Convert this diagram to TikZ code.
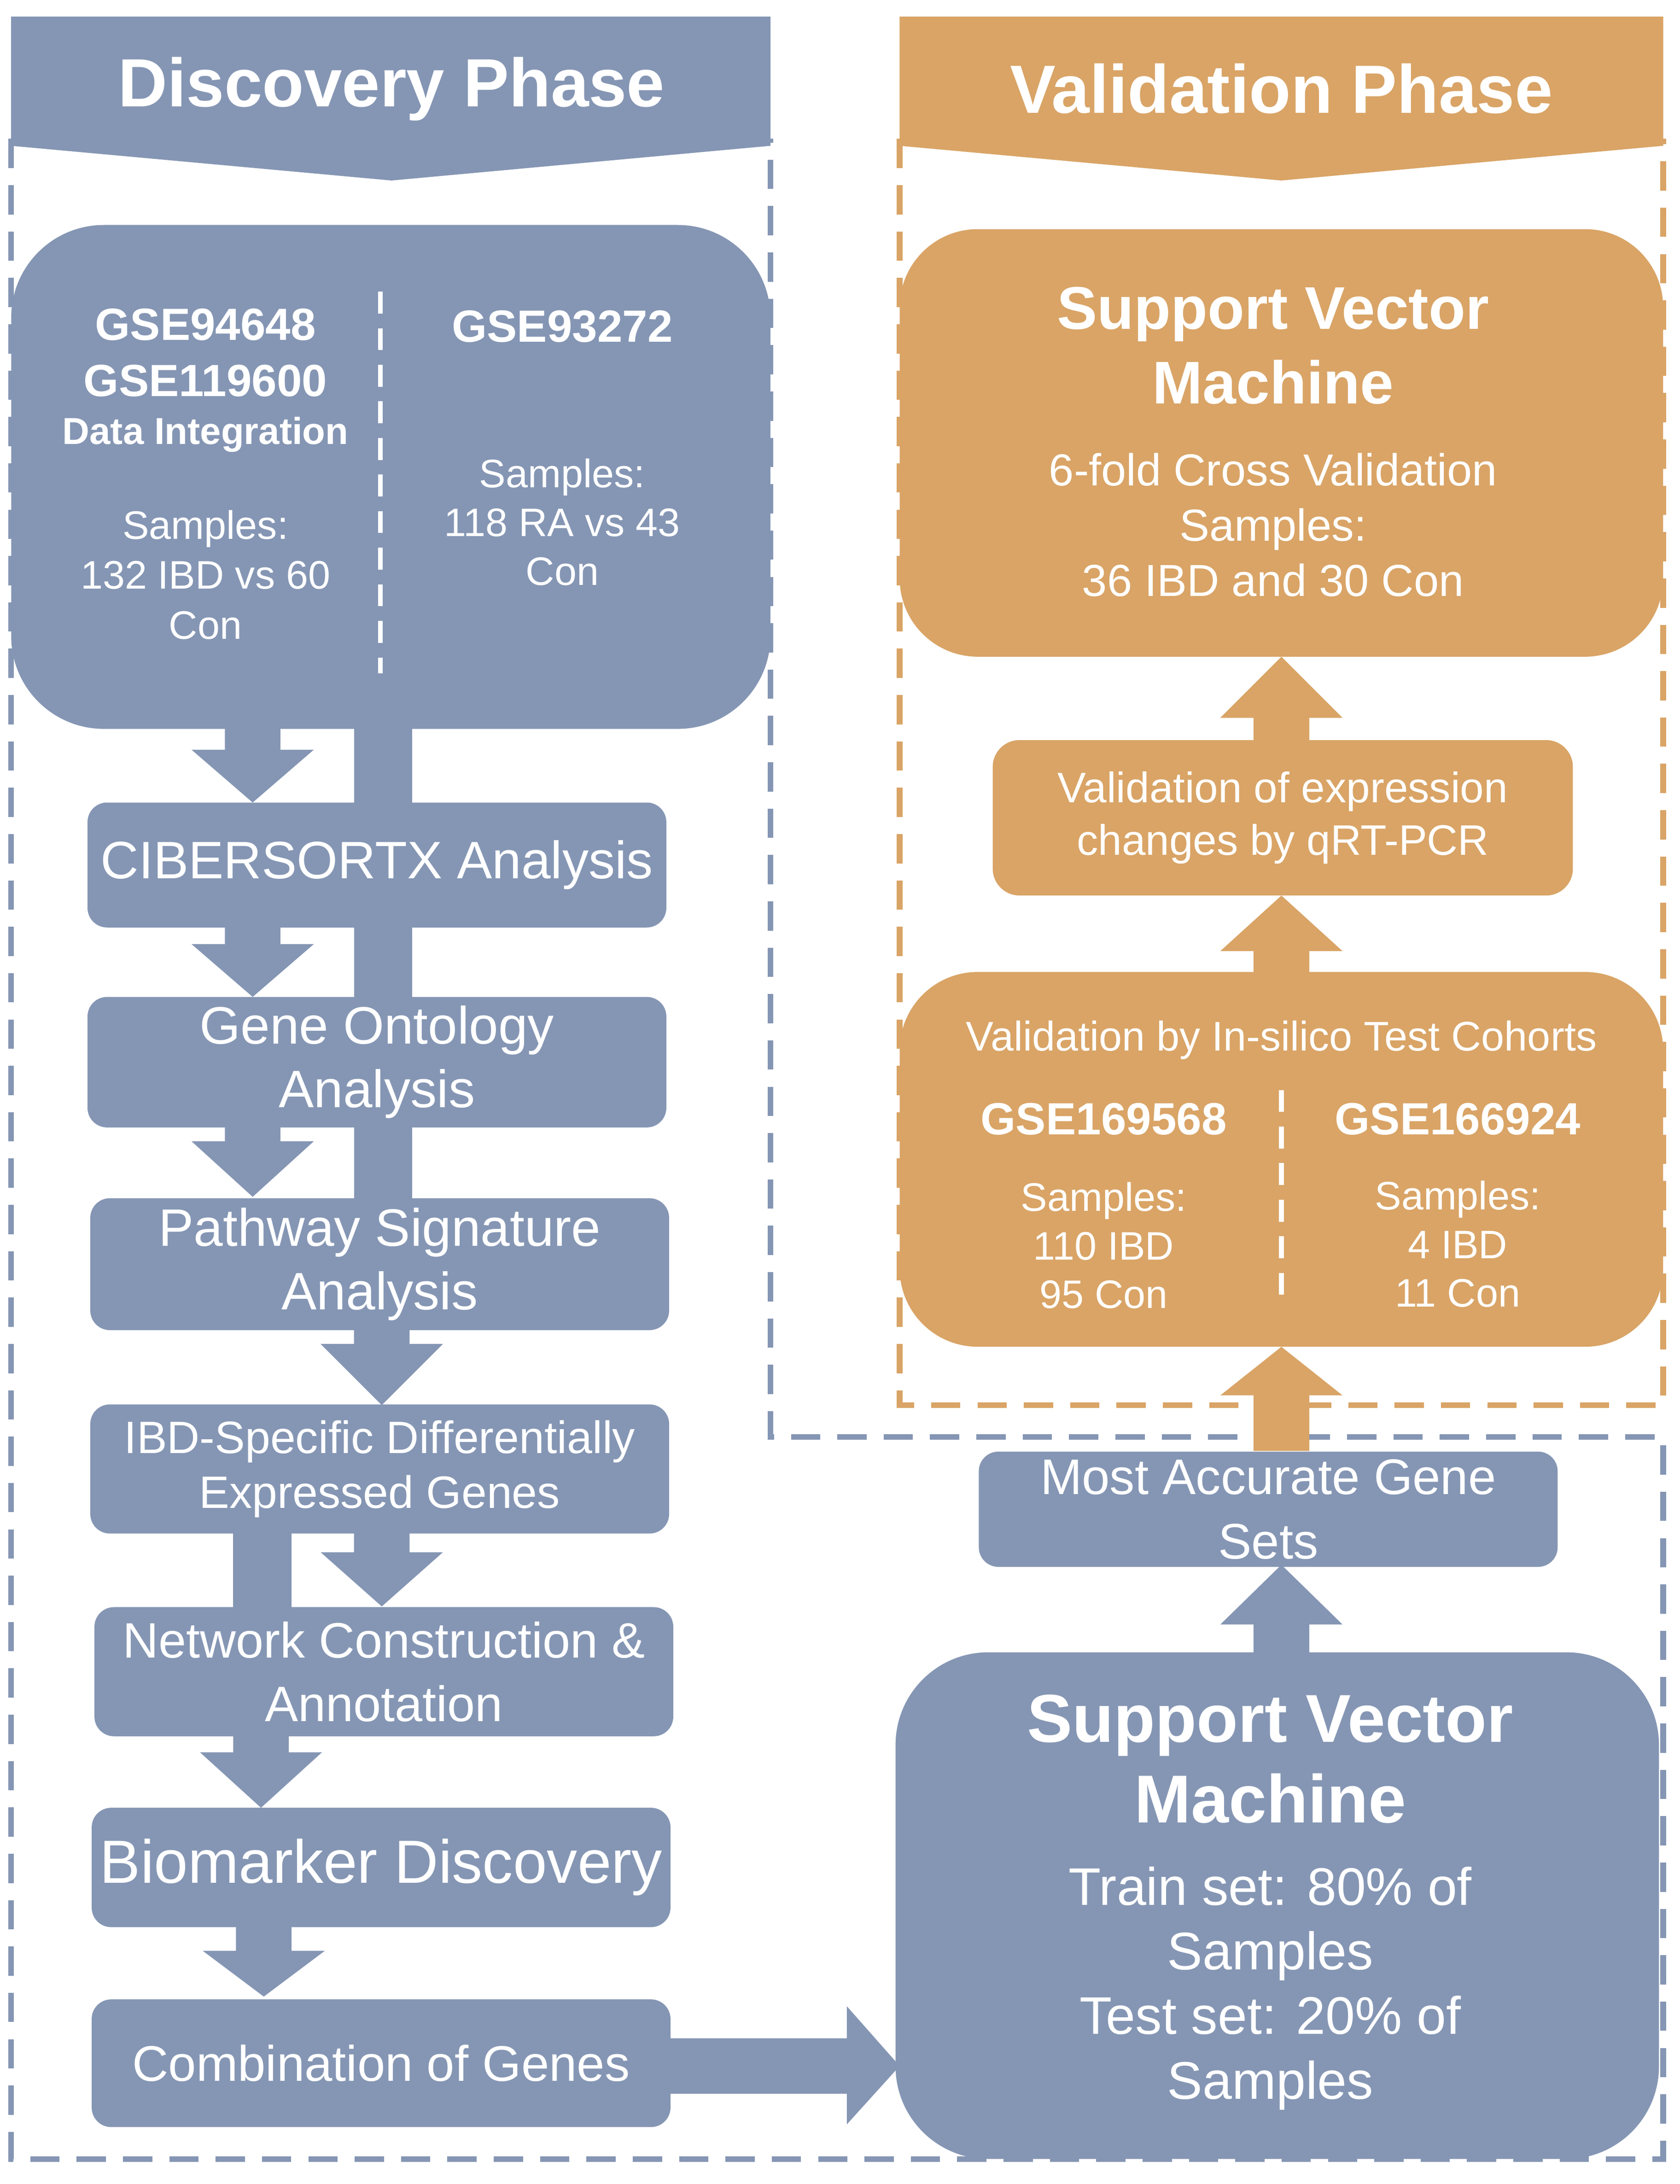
\documentclass[tikz,border=0pt]{standalone}
\usepackage{fontspec}
\setmainfont{Liberation Sans}
\definecolor{bl}{HTML}{8596B4}
\definecolor{og}{HTML}{D9A466}
\newcommand{\fs}[2]{\fontsize{#1}{#2}\selectfont}
\newcommand{\darr}[5]{\fill[#5] (#1-20,#2) -- (#1+20,#2) -- (#1+20,#3) -- (#1+44,#3) -- (#1,#4) -- (#1-44,#3) -- (#1-20,#3) -- cycle;}
\begin{document}
\begin{tikzpicture}[x=0.02cm,y=-0.02cm,
  dsh/.style={line width=2.3pt,dash pattern=on 12pt off 7pt},
  box/.style={fill=#1,rounded corners=8pt,inner sep=0pt,text=white,align=center},
  big/.style={fill=#1,rounded corners=38pt,inner sep=0pt},
  wt/.style={text=white,inner sep=0pt,align=center}]
\useasboundingbox (0,0) rectangle (1210,1573);
% dashed frames
\draw[dsh,og] (648,100) -- (648,1012) -- (1198,1012) -- (1198,100);
\draw[dsh,bl] (8,100) -- (8,1555) -- (1198,1555) -- (1198,1035) -- (555,1035) -- (555,100);
% banners
\fill[bl] (8,12) -- (555,12) -- (555,105) -- (282,130) -- (8,105) -- cycle;
\fill[og] (648,12) -- (1198,12) -- (1198,105) -- (923,130) -- (648,105) -- cycle;
\node[wt,font=\fs{28}{32}\bfseries] (t1) at (282,64) {Discovery Phase};
\node[wt,font=\fs{28}{32}\bfseries] (t2) at (923,64) {Validation Phase};
% connectors (block arrows / stems)
\darr{182}{520}{540}{578}{bl}
\fill[bl] (255,520) rectangle (297,580);
\darr{182}{665}{680}{718}{bl}
\fill[bl] (255,665) rectangle (297,720);
\darr{182}{810}{822}{862}{bl}
\fill[bl] (255,810) rectangle (297,865);
\darr{275}{955}{968}{1012}{bl}
\fill[bl] (168,1100) rectangle (210,1160);
\darr{275}{1100}{1118}{1157}{bl}
\darr{188}{1248}{1262}{1302}{bl}
\darr{190}{1385}{1405}{1438}{bl}
\fill[bl] (480,1468) -- (610,1468) -- (610,1445) -- (648,1488) -- (610,1530) -- (610,1508) -- (480,1508) -- cycle;
\darr{923}{1192}{1170}{1127}{bl}
\darr{923}{1045}{1005}{970}{og}
\darr{923}{703}{685}{645}{og}
\darr{923}{536}{517}{473}{og}
% discovery big box
\node[big=bl,minimum width=547\pgflinewidth,minimum width=10.94cm,minimum height=7.26cm] (d0) at (281.5,343.5) {};
\draw[white,line width=2pt,dash pattern=on 9pt off 6pt] (274,210) -- (274,485);
\node[wt,font=\fs{18.5}{23}\bfseries] (g1) at (148,254) {GSE94648\\GSE119600};
\node[wt,font=\fs{15.4}{18}\bfseries] (g1b) at (148,313) {Data Integration};
\node[wt,font=\fs{16.3}{20.5}] (g1c) at (148,414) {Samples:\\132 IBD vs 60\\Con};
\node[wt,font=\fs{18.5}{23}\bfseries] (g2) at (405,235) {GSE93272};
\node[wt,font=\fs{16.3}{20}] (g2c) at (405,376) {Samples:\\118 RA vs 43\\Con};
% flow boxes
\node[box=bl,minimum width=8.34cm,minimum height=1.8cm,font=\fs{21.6}{26}] (c1) at (271.5,623) {CIBERSORTX Analysis};
\node[box=bl,minimum width=8.34cm,minimum height=1.88cm,font=\fs{21.6}{26}] (c2) at (271.5,765) {Gene Ontology\\Analysis};
\node[box=bl,minimum width=8.34cm,minimum height=1.9cm,font=\fs{21.6}{26}] (c3) at (273.5,910.5) {Pathway Signature\\Analysis};
\node[box=bl,minimum width=8.34cm,minimum height=1.86cm,font=\fs{18.6}{22.5}] (c4) at (273.5,1058) {IBD-Specific Differentially\\Expressed Genes};
\node[box=bl,minimum width=8.34cm,minimum height=1.86cm,font=\fs{20.4}{26}] (c5) at (276.5,1204) {Network Construction \&\\Annotation};
\node[box=bl,minimum width=8.34cm,minimum height=1.72cm,font=\fs{25}{30}] (c6) at (274.5,1345) {Biomarker Discovery};
\node[box=bl,minimum width=8.34cm,minimum height=1.84cm,font=\fs{20.5}{25}] (c7) at (274.5,1486) {Combination of Genes};
% blue SVM
\node[big=bl,minimum width=11cm,minimum height=7.3cm] (s1) at (920,1372.5) {};
\node[wt,font=\fs{27.8}{33}\bfseries] (s1a) at (915,1267) {Support Vector\\Machine};
\node[wt,font=\fs{21.7}{26.5}] (s1b) at (915,1432) {Train set: 80\% of\\Samples\\Test set: 20\% of\\Samples};
\node[box=bl,minimum width=8.34cm,minimum height=1.66cm,font=\fs{20.5}{26.5}] (m1) at (913.5,1087) {Most Accurate Gene\\Sets};
% orange in-silico
\node[big=og,minimum width=11cm,minimum height=5.4cm,rounded corners=32pt] (v1) at (923,835) {};
\node[wt,font=\fs{17}{20}] (v1a) at (923,749) {Validation by In-silico Test Cohorts};
\draw[white,line width=2pt,dash pattern=on 9pt off 6pt] (923,785) -- (923,940);
\node[wt,font=\fs{18.5}{22}\bfseries] (v1b) at (795,806) {GSE169568};
\node[wt,font=\fs{18.5}{22}\bfseries] (v1c) at (1050,806) {GSE166924};
\node[wt,font=\fs{16.3}{20}] (v1d) at (795,897) {Samples:\\110 IBD\\95 Con};
\node[wt,font=\fs{16.3}{20}] (v1e) at (1050,896) {Samples:\\4 IBD\\11 Con};
\node[box=og,minimum width=8.36cm,minimum height=2.24cm,rounded corners=11pt,font=\fs{17.5}{21.5}] (q1) at (924,589) {Validation of expression\\changes by qRT-PCR};
% orange SVM
\node[big=og,minimum width=11cm,minimum height=6.16cm,rounded corners=32pt] (o1) at (923,319) {};
\node[wt,font=\fs{24.7}{30.5}\bfseries] (o1a) at (917,249) {Support Vector\\Machine};
\node[wt,font=\fs{18.4}{22.7}] (o1b) at (917,378) {6-fold Cross Validation\\Samples:\\36 IBD and 30 Con};
\end{tikzpicture}
\end{document}
